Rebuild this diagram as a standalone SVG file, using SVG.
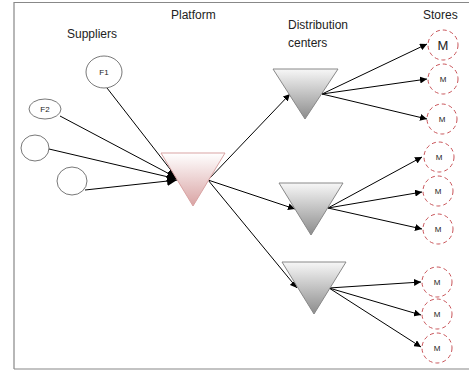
<svg xmlns="http://www.w3.org/2000/svg" width="469" height="372" viewBox="0 0 469 372">
<defs>
<linearGradient id="pink" x1="0" y1="0" x2="0" y2="1"><stop offset="0" stop-color="#ffffff"/><stop offset="1" stop-color="#d9a3a3"/></linearGradient>
<linearGradient id="gray" x1="0" y1="0" x2="0" y2="1"><stop offset="0" stop-color="#f7f7f7"/><stop offset="1" stop-color="#8c8c8c"/></linearGradient>
<marker id="ah" viewBox="0 0 10 10" refX="10" refY="5" markerWidth="7" markerHeight="7" markerUnits="userSpaceOnUse" orient="auto"><path d="M0,0 L10,5 L0,10 z" fill="#000"/></marker>
<marker id="ahb" viewBox="0 0 10 10" refX="10" refY="5" markerWidth="10" markerHeight="10" markerUnits="userSpaceOnUse" orient="auto"><path d="M0,0 L10,5 L0,10 z" fill="#000"/></marker>
</defs>
<style>
text{font-family:"Liberation Sans",Arial,sans-serif;fill:#222}
.lbl{font-size:12px}
.sm{font-size:8px}
.sup{fill:#fff;stroke:#555;stroke-width:0.8}
.st{fill:#fff;stroke:#c9555a;stroke-width:1;stroke-dasharray:4 3}
.ln{stroke:#000;stroke-width:1;fill:none;marker-end:url(#ah)}
.lnb{stroke:#000;stroke-width:1;fill:none;marker-end:url(#ahb)}
</style>
<rect x="0" y="0" width="469" height="372" fill="#fff"/>
<path d="M14,369 V2.5 H469" fill="none" stroke="#888" stroke-width="1.2"/>
<path d="M14,369 H469" fill="none" stroke="#888" stroke-width="1.2"/>
<text class="lbl" x="67" y="38">Suppliers</text>
<text class="lbl" x="171" y="19">Platform</text>
<text class="lbl" x="288" y="29">Distribution</text>
<text class="lbl" x="288" y="47">centers</text>
<text class="lbl" x="423" y="19">Stores</text>
<g id="connectors">
<line class="lnb" x1="107" y1="88" x2="177" y2="178"/>
<line class="lnb" x1="60" y1="116" x2="177" y2="178"/>
<line class="lnb" x1="49" y1="149" x2="177" y2="179"/>
<line class="lnb" x1="85" y1="190" x2="177" y2="180"/>
<line class="ln" x1="208" y1="180" x2="290" y2="94"/>
<line class="ln" x1="208" y1="180" x2="295" y2="209"/>
<line class="ln" x1="208" y1="180" x2="297" y2="288"/>
<line class="ln" x1="322" y1="94" x2="427" y2="44"/>
<line class="ln" x1="322" y1="94" x2="427" y2="79"/>
<line class="ln" x1="322" y1="94" x2="427" y2="119"/>
<line class="ln" x1="328" y1="208" x2="422" y2="157"/>
<line class="ln" x1="328" y1="208" x2="422" y2="192"/>
<line class="ln" x1="328" y1="208" x2="422" y2="229"/>
<line class="ln" x1="329" y1="288" x2="421" y2="282"/>
<line class="ln" x1="329" y1="288" x2="421" y2="315"/>
<line class="ln" x1="329" y1="288" x2="421" y2="347"/>
</g>
<g id="F1"><ellipse class="sup" cx="104" cy="72" rx="18" ry="16"/><text class="sm" x="104" y="75" text-anchor="middle">F1</text></g>
<g id="F2"><ellipse class="sup" cx="45" cy="109" rx="16" ry="10"/><text class="sm" x="45" y="112" text-anchor="middle">F2</text></g>
<g id="S3"><ellipse class="sup" cx="35" cy="148" rx="14" ry="13"/></g>
<g id="S4"><ellipse class="sup" cx="72" cy="181" rx="15" ry="14"/></g>
<g id="platform"><polygon points="161,153 225,153 193,206" fill="url(#pink)" stroke="#d9a3a3" stroke-width="1"/></g>
<g id="dc1"><polygon points="273,69 338,69 305,119" fill="url(#gray)" stroke="#888" stroke-width="1"/></g>
<g id="dc2"><polygon points="279,183 343,183 311,235" fill="url(#gray)" stroke="#888" stroke-width="1"/></g>
<g id="dc3"><polygon points="282,262 346,262 314,314" fill="url(#gray)" stroke="#888" stroke-width="1"/></g>
<g id="m1"><circle class="st" cx="443" cy="45" r="15"/><text x="443" y="50" text-anchor="middle" font-size="13">M</text></g>
<g id="m2"><circle class="st" cx="443" cy="79" r="15"/><text class="sm" x="443" y="82" text-anchor="middle">M</text></g>
<g id="m3"><circle class="st" cx="442" cy="119" r="15"/><text class="sm" x="442" y="122" text-anchor="middle">M</text></g>
<g id="m4"><circle class="st" cx="439" cy="157" r="15"/><text class="sm" x="439" y="160" text-anchor="middle">M</text></g>
<g id="m5"><circle class="st" cx="438" cy="191" r="15"/><text class="sm" x="438" y="194" text-anchor="middle">M</text></g>
<g id="m6"><circle class="st" cx="438" cy="229" r="15"/><text class="sm" x="438" y="232" text-anchor="middle">M</text></g>
<g id="m7"><circle class="st" cx="437" cy="282" r="15"/><text class="sm" x="437" y="285" text-anchor="middle">M</text></g>
<g id="m8"><circle class="st" cx="437" cy="314" r="15"/><text class="sm" x="437" y="317" text-anchor="middle">M</text></g>
<g id="m9"><circle class="st" cx="437" cy="348" r="15"/><text class="sm" x="437" y="351" text-anchor="middle">M</text></g>
</svg>
